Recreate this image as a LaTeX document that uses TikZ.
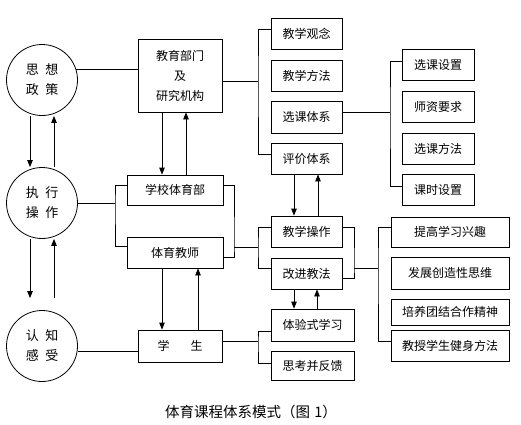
\documentclass[tikz,border=0pt]{standalone}
\usepackage{fontspec}
\setmainfont{Noto Sans CJK SC}
\usetikzlibrary{arrows.meta}

\begin{document}
\begin{tikzpicture}[x=1pt,y=-1pt,every node/.style={inner sep=0pt, font=\fontsize{12}{20}\selectfont}, every path/.style={line width=0.8pt},
  box/.style={draw, minimum height=31pt, align=center},
  ring/.style={circle, draw, minimum size=71pt, align=center, font=\fontsize{13}{20}\selectfont},
  arr/.style={-{Triangle[length=7pt,width=5.5pt]}}]
\useasboundingbox (0,0) rectangle (521,424);

\node[ring] (sx) at (42,80) {思\hspace{0.5em}想\\政\hspace{0.5em}策};
\node[ring] (zx) at (42,203) {执\hspace{0.5em}行\\操\hspace{0.5em}作};
\node[ring] (rz) at (42,346) {认\hspace{0.5em}知\\感\hspace{0.5em}受};

\node[box, minimum width=84pt, minimum height=73pt] (jybm) at (180,75.5) {教育部门\\及\\研究机构};
\node[box, minimum width=96pt, minimum height=30pt] (xxtyb) at (175,190) {学校体育部};
\node[box, minimum width=96pt] (tyjs) at (175,252.5) {体育教师};
\node[box, minimum width=84pt, minimum height=32pt] (xs) at (180,346) {学\hspace{1.75em}生};

\node[box, minimum width=71pt] (jxgn) at (306.5,33.5) {教学观念};
\node[box, minimum width=71pt] (jxff) at (306.5,75.5) {教学方法};
\node[box, minimum width=71pt, minimum height=32pt] (xktx) at (306.5,117) {选课体系};
\node[box, minimum width=71pt] (pjtx) at (306.5,158.5) {评价体系};
\node[box, minimum width=71pt] (jxcz) at (306.5,231.5) {教学操作};
\node[box, minimum width=71pt] (gjjf) at (306.5,273.5) {改进教法};
\node[box, minimum width=83pt, minimum height=32pt] (tysx) at (312.5,325) {体验式学习};
\node[box, minimum width=83pt, minimum height=29pt] (skfk) at (312.5,366) {思考并反馈};

\node[box, minimum width=72pt] (xksz) at (438,65) {选课设置};
\node[box, minimum width=72pt] (szyq) at (438,106.5) {师资要求};
\node[box, minimum width=72pt] (xkff) at (438,148.5) {选课方法};
\node[box, minimum width=72pt] (kssz) at (438,189.5) {课时设置};

\node[box, minimum width=118pt, minimum height=30pt] (tgxq) at (450,232) {提高学习兴趣};
\node[box, minimum width=118pt, minimum height=32pt] (fzcz) at (450,273) {发展创造性思维};
\node[box, minimum width=118pt, minimum height=26pt] (pytj) at (450,312) {培养团结合作精神};
\node[box, minimum width=118pt] (jssx) at (450,345.5) {教授学生健身方法};

\node[font=\fontsize{14.5}{16}\selectfont] (title) at (251,412) {体育课程体系模式（图\hspace{0.3em}1）};

\coordinate (k1) at (258,81);
\coordinate (k2) at (390,112);
\coordinate (k3) at (115,203);
\coordinate (k4) at (234,247);
\coordinate (k5) at (258,247);
\coordinate (k6) at (354,268);
\coordinate (k7) at (378,268);
\coordinate (k8) at (258,341);

\draw (sx.17) -- (sx.17 -| jybm.west);
\draw ([yshift=-5.5pt]jybm.east) -- (k1);
\draw ([yshift=4.5pt]jxgn.west) -| (k1) |- ([yshift=4.5pt]pjtx.west);
\draw ([yshift=5pt]xktx.east) -- (k2);
\draw ([yshift=4pt]xksz.west) -| (k2) |- ([yshift=3.5pt]kssz.west);
\draw (zx.east) -- (k3);
\draw ([yshift=5pt]xxtyb.west) -| (k3) |- ([yshift=6pt]tyjs.west);
\draw ([yshift=5pt]xxtyb.east) -| (k4) |- ([yshift=-4.5pt]tyjs.east);
\draw (k4) -- (k5);
\draw ([yshift=4.5pt]jxcz.west) -| (k5) |- ([yshift=5.5pt]gjjf.west);
\draw ([yshift=4.5pt]jxcz.east) -| (k6) |- ([yshift=-4.5pt]gjjf.east);
\draw (k6) -- (k7);
\draw ([yshift=5pt]tgxq.west) -| (k7) |- ([yshift=4.5pt]jssx.west);
\draw (rz.-8) -- (rz.-8 -| xs.west);
\draw ([yshift=5pt]xs.east) -- (k8);
\draw ([yshift=-6pt]tysx.west) -| (k8) |- ([yshift=3pt]skfk.west);

% up and down
\draw[arr] ([xshift=-12pt]sx.south) -- ([xshift=-12pt]zx.north);
\draw[arr] ([xshift=12pt]zx.north) -- ([xshift=12pt]sx.south);
\draw[arr, shorten >=12pt] ([xshift=-12pt]zx.south) -- ([xshift=-12pt]rz.north);
\draw[arr, shorten <=12pt] ([xshift=12pt]rz.north) -- ([xshift=12pt]zx.south);
\draw[arr] ([xshift=-18pt]jybm.south) -- ([xshift=-13pt]xxtyb.north);
\draw[arr] ([xshift=11pt]xxtyb.north) -- ([xshift=6pt]jybm.south);
\draw[arr] ([xshift=-13pt]tyjs.south) -- ([xshift=-18pt]xs.north);
\draw[arr] ([xshift=18pt]xs.north) -- ([xshift=23pt]tyjs.south);
\draw[arr] ([xshift=-12.5pt]pjtx.south) -- ([xshift=-12.5pt]jxcz.north);
\draw[arr] ([xshift=11.5pt]jxcz.north) -- ([xshift=11.5pt]pjtx.south);
\draw[arr] ([xshift=-12.5pt]gjjf.south) -- ([xshift=-18.5pt]tysx.north);
\draw[arr] ([xshift=4.5pt]tysx.north) -- ([xshift=10.5pt]gjjf.south);
\end{tikzpicture}
\end{document}
